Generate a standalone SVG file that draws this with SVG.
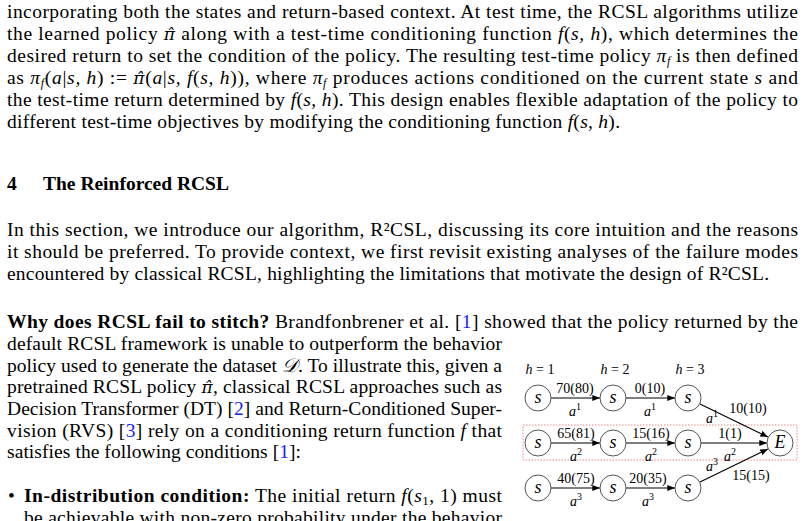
<svg xmlns="http://www.w3.org/2000/svg" width="805" height="521" viewBox="0 0 805 521">
<style>
text{font-family:"Liberation Serif","Times New Roman",serif;font-size:19.5px;fill:#000}
.i{font-style:italic}
.h{font-family:"DejaVu Serif",serif;font-style:italic;font-size:17px}
.b{font-weight:bold}
.l{fill:#1a1aff}
.d text{font-size:14px}
.n circle{fill:#fff;stroke:#555;stroke-width:1}
.n text{font-size:18px;font-style:italic;text-anchor:middle}
.e line{stroke:#000;stroke-width:1.1;marker-end:url(#ah)}
.lb{text-anchor:middle}
</style>
<defs><marker id="ah" viewBox="0 0 10 10" refX="10" refY="5" markerWidth="7" markerHeight="7" orient="auto"><path d="M0,1 L10,5 L0,9 z" fill="#000"/></marker></defs>
<rect width="805" height="521" fill="#fff"/>
<g id="body">
<text x="7" y="18" textLength="791" lengthAdjust="spacing">incorporating both the states and return-based context. At test time, the RCSL algorithms utilize</text>
<text x="7" y="40" textLength="791" lengthAdjust="spacing">the learned policy <tspan class="h">π̂</tspan> along with a test-time conditioning function <tspan class="i">f</tspan>(<tspan class="i">s, h</tspan>), which determines the</text>
<text x="7" y="62" textLength="791" lengthAdjust="spacing">desired return to set the condition of the policy. The resulting test-time policy <tspan class="i">π<tspan font-size="12" dy="3">f</tspan></tspan><tspan dy="-3"> is then defined</tspan></text>
<text x="7" y="84" textLength="791" lengthAdjust="spacing">as <tspan class="i">π<tspan font-size="12" dy="3">f</tspan></tspan><tspan dy="-3">(</tspan><tspan class="i">a</tspan>|<tspan class="i">s, h</tspan>) := <tspan class="h">π̂</tspan>(<tspan class="i">a</tspan>|<tspan class="i">s, f</tspan>(<tspan class="i">s, h</tspan>)), where <tspan class="i">π<tspan font-size="12" dy="3">f</tspan></tspan><tspan dy="-3"> produces actions conditioned on the current state </tspan><tspan class="i">s</tspan> and</text>
<text x="7" y="106" textLength="791" lengthAdjust="spacing">the test-time return determined by <tspan class="i">f</tspan>(<tspan class="i">s, h</tspan>). This design enables flexible adaptation of the policy to</text>
<text x="7" y="128" textLength="613" lengthAdjust="spacing">different test-time objectives by modifying the conditioning function <tspan class="i">f</tspan>(<tspan class="i">s, h</tspan>).</text>
<text x="7" y="190" font-size="24" class="b">4</text>
<text x="43" y="190" font-size="24" class="b">The Reinforced RCSL</text>
<text x="7" y="236" textLength="791" lengthAdjust="spacing">In this section, we introduce our algorithm, R²CSL, discussing its core intuition and the reasons</text>
<text x="7" y="258" textLength="791" lengthAdjust="spacing">it should be preferred. To provide context, we first revisit existing analyses of the failure modes</text>
<text x="7" y="280" textLength="762" lengthAdjust="spacing">encountered by classical RCSL, highlighting the limitations that motivate the design of R²CSL.</text>
<text x="7" y="328" textLength="791" lengthAdjust="spacing"><tspan class="b">Why does RCSL fail to stitch?</tspan>   Brandfonbrener et al. [<tspan class="l">1</tspan>] showed that the policy returned by the</text>
<text x="7" y="350" textLength="495" lengthAdjust="spacing">default RCSL framework is unable to outperform the behavior</text>
<text x="7" y="372" textLength="495" lengthAdjust="spacing">policy used to generate the dataset <tspan class="i">𝒟</tspan>. To illustrate this, given a</text>
<text x="7" y="393" textLength="495" lengthAdjust="spacing">pretrained RCSL policy <tspan class="h">π̂</tspan>, classical RCSL approaches such as</text>
<text x="7" y="415" textLength="495" lengthAdjust="spacing">Decision Transformer (DT) [<tspan class="l">2</tspan>] and Return-Conditioned Super-</text>
<text x="7" y="437" textLength="495" lengthAdjust="spacing">vision (RVS) [<tspan class="l">3</tspan>] rely on a conditioning return function <tspan class="i">f</tspan> that</text>
<text x="7" y="458" textLength="294" lengthAdjust="spacing">satisfies the following conditions [<tspan class="l">1</tspan>]:</text>
<text x="8" y="502">•</text>
<text x="24" y="502" textLength="478" lengthAdjust="spacing"><tspan class="b">In-distribution condition:</tspan> The initial return <tspan class="i">f</tspan>(<tspan class="i">s</tspan><tspan font-size="13" dy="3">1</tspan><tspan dy="-3">, 1) must</tspan></text>
<text x="24" y="524" textLength="478" lengthAdjust="spacing">be achievable with non-zero probability under the behavior</text>
</g>
<g class="d" id="diagram">
<rect x="523" y="425" width="274" height="35" fill="none" stroke="#e88" stroke-width="1" stroke-dasharray="1.5,1.5"/>
<text x="540" y="374" class="lb"><tspan class="i">h</tspan> = 1</text>
<text x="615" y="374" class="lb"><tspan class="i">h</tspan> = 2</text>
<text x="690" y="374" class="lb"><tspan class="i">h</tspan> = 3</text>
<g class="e" id="connectors">
<line x1="551" y1="398" x2="600" y2="398"/>
<line x1="626" y1="398" x2="675" y2="398"/>
<line x1="700" y1="404" x2="768" y2="437"/>
<line x1="551" y1="443" x2="600" y2="443"/>
<line x1="626" y1="443" x2="675" y2="443"/>
<line x1="701" y1="443" x2="767" y2="443"/>
<line x1="551" y1="488" x2="600" y2="488"/>
<line x1="626" y1="488" x2="675" y2="488"/>
<line x1="700" y1="482" x2="768" y2="449"/>
</g>
<g id="labels">
<text x="575" y="393" class="lb">70(80)</text><text x="575" y="416" class="lb"><tspan class="i">a</tspan><tspan font-size="10" dy="-6">1</tspan></text>
<text x="650" y="393" class="lb">0(10)</text><text x="650" y="416" class="lb"><tspan class="i">a</tspan><tspan font-size="10" dy="-6">1</tspan></text>
<text x="748" y="413" class="lb">10(10)</text><text x="712" y="423" class="lb"><tspan class="i">a</tspan><tspan font-size="10" dy="-6">1</tspan></text>
<text x="576" y="438" class="lb">65(81)</text><text x="576" y="461" class="lb"><tspan class="i">a</tspan><tspan font-size="10" dy="-6">2</tspan></text>
<text x="651" y="438" class="lb">15(16)</text><text x="651" y="461" class="lb"><tspan class="i">a</tspan><tspan font-size="10" dy="-6">2</tspan></text>
<text x="730" y="438" class="lb">1(1)</text><text x="730" y="461" class="lb"><tspan class="i">a</tspan><tspan font-size="10" dy="-6">2</tspan></text>
<text x="576" y="483" class="lb">40(75)</text><text x="576" y="506" class="lb"><tspan class="i">a</tspan><tspan font-size="10" dy="-6">3</tspan></text>
<text x="648" y="483" class="lb">20(35)</text><text x="648" y="506" class="lb"><tspan class="i">a</tspan><tspan font-size="10" dy="-6">3</tspan></text>
<text x="712" y="471" class="lb"><tspan class="i">a</tspan><tspan font-size="10" dy="-6">3</tspan></text><text x="751" y="480" class="lb">15(15)</text>
</g>
<g class="n" id="s11"><circle cx="538" cy="398" r="13"/><text x="538" y="403">s</text></g>
<g class="n" id="s12"><circle cx="613" cy="398" r="13"/><text x="613" y="403">s</text></g>
<g class="n" id="s13"><circle cx="688" cy="398" r="13"/><text x="688" y="403">s</text></g>
<g class="n" id="s21"><circle cx="538" cy="443" r="13"/><text x="538" y="448">s</text></g>
<g class="n" id="s22"><circle cx="613" cy="443" r="13"/><text x="613" y="448">s</text></g>
<g class="n" id="s23"><circle cx="688" cy="443" r="13"/><text x="688" y="448">s</text></g>
<g class="n" id="s31"><circle cx="538" cy="488" r="13"/><text x="538" y="493">s</text></g>
<g class="n" id="s32"><circle cx="613" cy="488" r="13"/><text x="613" y="493">s</text></g>
<g class="n" id="s33"><circle cx="688" cy="488" r="13"/><text x="688" y="493">s</text></g>
<g class="n" id="E"><circle cx="780" cy="443" r="13"/><text x="780" y="448">E</text></g>
</g>
</svg>
